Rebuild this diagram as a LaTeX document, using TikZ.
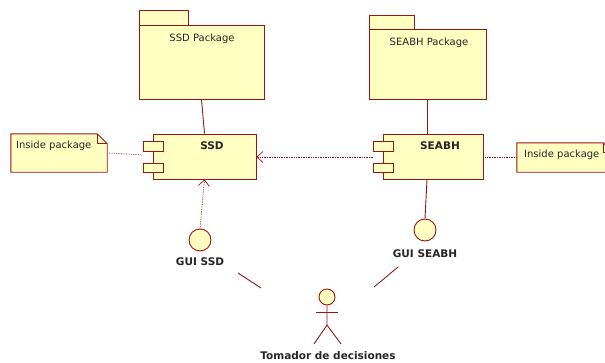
\documentclass[tikz,border=0pt]{standalone}
\usepackage{fontspec}
\setmainfont{DejaVu Sans}
\usetikzlibrary{arrows.meta}
\definecolor{umlfill}{RGB}{255,255,194}
\definecolor{umlline}{RGB}{153,20,20}
\begin{document}
\begin{tikzpicture}[x=1pt,y=-1pt,
  box/.style={draw=umlline,fill=umlfill,line width=0.9pt,inner sep=0pt},
  txt/.style={font=\fontsize{10}{11}\selectfont,text=black!85,inner sep=0pt},
  btxt/.style={font=\fontsize{10.5}{12}\selectfont\bfseries,text=black!85,inner sep=0pt},
  dotline/.style={draw=umlline,densely dotted,line width=0.7pt},
  solidline/.style={draw=umlline,line width=0.9pt},
  openhead/.style={-{Straight Barb[length=6pt,width=11pt]}}]
\useasboundingbox (0,0) rectangle (605,362);
% packages
\draw[box] (139,10) rectangle (188,25);
\node[box,minimum width=125pt,minimum height=74pt] (ssdpkg) at (201.5,62) {};
\node[txt] (ssdpkgt) at (202,39) {SSD Package};
\draw[box] (369,15) rectangle (414,29);
\node[box,minimum width=117pt,minimum height=70pt] (seabhpkg) at (427.5,64) {};
\node[txt] (seabhpkgt) at (429,43) {SEABH Package};
% components
\node[box,minimum width=103pt,minimum height=45pt] (ssd) at (204.5,156.5) {};
\draw[box] (143,141) rectangle (163,151);
\draw[box] (143,163) rectangle (163,172);
\node[btxt] (ssdt) at (212,146) {SSD};
\node[box,minimum width=100pt,minimum height=45pt] (seabh) at (433,156.5) {};
\draw[box] (373,141) rectangle (393,151);
\draw[box] (373,163) rectangle (393,172);
\node[btxt] (seabht) at (440,146) {SEABH};
% notes
\node[minimum width=96pt,minimum height=38pt,inner sep=0pt] (note1) at (59,153) {};
\draw[box] (note1.north west) -- ([xshift=-10pt]note1.north east) -- ([yshift=-10pt]note1.north east) -- (note1.south east) -- (note1.south west) -- cycle;
\draw[box,fill=none] ([xshift=-10pt]note1.north east) -- ([xshift=-10pt,yshift=-10pt]note1.north east) -- ([yshift=-10pt]note1.north east);
\node[txt,anchor=west] (note1t) at (16,146) {Inside package};
\node[minimum width=96pt,minimum height=29pt,inner sep=0pt] (note2) at (565,157.5) {};
\draw[box] (note2.north west) -- ([xshift=-10pt]note2.north east) -- ([yshift=-10pt]note2.north east) -- (note2.south east) -- (note2.south west) -- cycle;
\draw[box,fill=none] ([xshift=-10pt]note2.north east) -- ([xshift=-10pt,yshift=-10pt]note2.north east) -- ([yshift=-10pt]note2.north east);
\node[txt,anchor=west] (note2t) at (524,155) {Inside package};
% interfaces
\node[box,circle,minimum size=22pt] (guissd) at (200,240) {};
\node[btxt] (guissdt) at (200,262) {GUI SSD};
\node[box,circle,minimum size=22pt] (guiseabh) at (425,230) {};
\node[btxt] (guiseabht) at (425,254) {GUI SEABH};
% actor
\node[box,circle,minimum size=16pt] (head) at (327,297) {};
\coordinate (hip) at (327,325);
\coordinate (lfoot) at (314,344);
\coordinate (rfoot) at (341,344);
\coordinate (larm) at (316,312);
\coordinate (rarm) at (338,312);
\draw[solidline] (head.south) -- (hip) -- (lfoot);
\draw[solidline] (hip) -- (rfoot);
\draw[solidline] (larm) -- (rarm);
\node[btxt] (actort) at (328,356) {Tomador de decisiones};
% connectors
\draw[solidline] (ssdpkg.south) -- (ssd.north);
\draw[solidline] (seabhpkg.south) -- (seabh.north -| seabhpkg.south);
\coordinate (n1end) at (143,155);
\draw[dotline] (note1.east) ++(2,0) -- (n1end);
\coordinate (seabhl) at (373,157);
\draw[dotline,openhead] (seabhl) -- (ssd.east |- seabhl);
\draw[dotline] (seabh.east |- note2.west) -- (note2.west);
\draw[dotline,openhead] (guissd.north) -- (ssd.south);
\draw[solidline] (seabh.south -| 427,0) -- (guiseabh.north);
\coordinate (a1) at (238,273); \coordinate (a2) at (261,288);
\coordinate (b1) at (374,287); \coordinate (b2) at (398,267);
\draw[solidline] (a1) -- (a2);
\draw[solidline] (b1) -- (b2);
\end{tikzpicture}
\end{document}
